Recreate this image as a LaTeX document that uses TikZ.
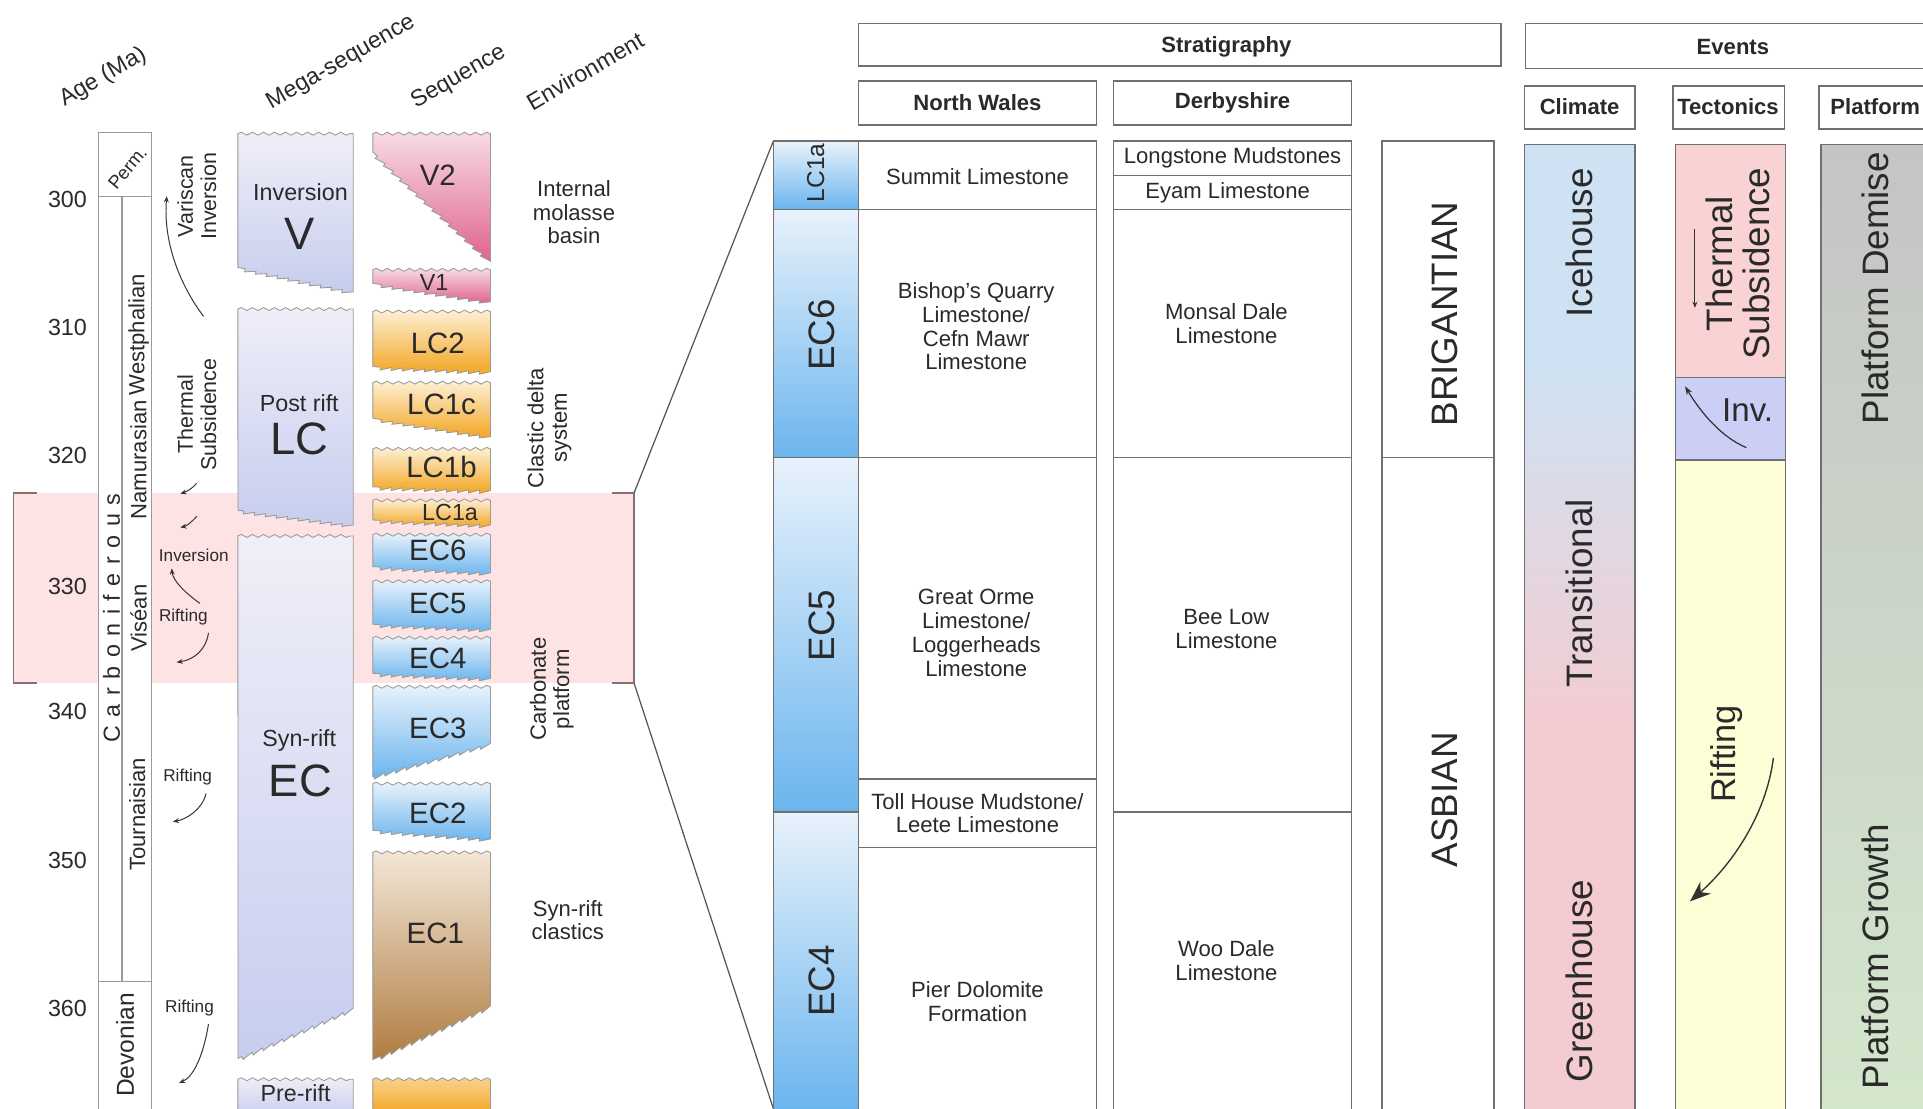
\documentclass[tikz,border=0pt]{standalone}
\usepackage{fontspec}
\setmainfont{Liberation Sans}
\usetikzlibrary{decorations.pathmorphing,arrows.meta}
\definecolor{txt}{HTML}{2A2A2A}
\definecolor{seqgray}{HTML}{9A9A9A}
\definecolor{boxgray}{HTML}{707070}
\definecolor{band}{HTML}{FDE3E3}
\definecolor{brk}{HTML}{8B7070}
\definecolor{zoomln}{HTML}{555555}
\definecolor{arrcol}{HTML}{333333}
\definecolor{megatop}{HTML}{F0EFF8}
\definecolor{megabot}{HTML}{C6CDEE}
\definecolor{v2top}{HTML}{F7DBE5}
\definecolor{v2bot}{HTML}{E0648C}
\definecolor{lctop}{HTML}{FDF0D5}
\definecolor{lcbot}{HTML}{F3A520}
\definecolor{ectop}{HTML}{E8F2FB}
\definecolor{ecbot}{HTML}{6BB5EE}
\definecolor{ecitop}{HTML}{F3E7D7}
\definecolor{ecibot}{HTML}{B07C40}
\definecolor{climblue}{HTML}{CFE2F3}
\definecolor{climpink}{HTML}{F4CBD0}
\definecolor{tpink}{HTML}{F9D3D3}
\definecolor{tblue}{HTML}{CBCFF6}
\definecolor{tyellow}{HTML}{FDFDD6}
\definecolor{platgray}{HTML}{C4C4C4}
\definecolor{platgreen}{HTML}{D3E7CC}
\newcommand{\fsz}[2]{\fontsize{#1}{#2}\selectfont}
\tikzset{
  txtbase/.style={inner sep=0pt, text=txt, align=center},
  hdr/.style={txtbase, font=\fsz{18}{20}\bfseries},
  cell/.style={txtbase, font=\fsz{18}{19.5}},
  big/.style={txtbase, font=\fsz{30}{31}},
  seqlbl/.style={txtbase, font=\fsz{24}{26}},
  megalbl/.style={txtbase, font=\fsz{19}{21}},
  megabig/.style={txtbase, font=\fsz{37}{40}},
  lefttxt/.style={txtbase, font=\fsz{18}{19}},
  agetxt/.style={txtbase, font=\fsz{19}{21}},
  smalltxt/.style={txtbase, font=\fsz{14}{15}},
  seqline/.style={draw=seqgray, line width=0.7pt},
  boxline/.style={draw=boxgray, line width=1.2pt},
  arr/.style={-{Stealth[length=5pt,width=4pt]}, line width=0.8pt, draw=arrcol},
  wav/.style={decoration={snake,amplitude=1.2pt,segment length=9pt}},
  sawd/.style={decoration={saw,amplitude=2.5pt,segment length=9pt}},
}
% x1 x2 ytop ybotleft ybotright topcolor bottomcolor
\newcommand{\seqshape}[7]{%
  \path[seqline, top color=#6, bottom color=#7]
    (#1,#3) decorate[wav]{-- (#2,#3)} -- (#2,#5)
    decorate[sawd]{-- (#1,#4)} -- cycle;}
\begin{document}
\begin{tikzpicture}[x=1pt,y=-1pt]
\path[use as bounding box] (0,0) rectangle (1568,904);
\clip (0,0) rectangle (1568,904);
\fill[white] (0,0) rectangle (1568,904);

% ---------- highlighted band ----------
\fill[band] (11,402) rectangle (517,557);
\draw[brk, line width=1pt] (30,402) -- (11,402) -- (11,557) -- (30,557);
\draw[brk, line width=1pt] (499,402) -- (517,402) -- (517,557) -- (499,557);
\coordinate (bandtr) at (517,402);
\coordinate (bandbr) at (517,557);
\coordinate (paneltl) at (630.6,115);
\coordinate (panelbl) at (630.6,904);
\draw[zoomln, line width=1pt] (bandtr) -- (paneltl);
\draw[zoomln, line width=1pt] (bandbr) -- (panelbl);

% ---------- headers ----------
\node[agetxt, rotate=30] (hage) at (84,63) {Age (Ma)};
\node[agetxt, rotate=30] (hmega) at (278,51) {Mega-sequence};
\node[agetxt, rotate=30] (hseq) at (374,63) {Sequence};
\node[agetxt, rotate=30] (henv) at (477,58) {Environment};

% ---------- age numbers ----------
\node[agetxt] (a300) at (55,163) {300};
\node[agetxt] (a310) at (55,267) {310};
\node[agetxt] (a320) at (55,371) {320};
\node[agetxt] (a330) at (55,478) {330};
\node[agetxt] (a340) at (55,580) {340};
\node[agetxt] (a350) at (55,702) {350};
\node[agetxt] (a360) at (55,822) {360};

% ---------- stratigraphic column ----------
\path[fill=white, draw=seqgray, line width=1pt] (80.6,108) rectangle (123.6,910);
\draw[seqgray, line width=1pt] (80.6,160) -- (123.6,160);
\draw[seqgray, line width=1pt] (99.5,160) -- (99.5,800);
\draw[seqgray, line width=1pt] (80.6,800) -- (123.6,800);
\node[txtbase, font=\fsz{15}{16}, rotate=50] (perm) at (104,137) {Perm.};
\node[txtbase, font=\fsz{19}{20}, rotate=90] (carb) at (91,504)
  {C\kern7pt a\kern7pt r\kern7pt b\kern7pt o\kern7pt n\kern7pt i\kern7pt f\kern7pt e\kern7pt r\kern7pt o\kern7pt u\kern7pt s};
\node[lefttxt, rotate=90] (west) at (113,273) {Westphalian};
\node[lefttxt, rotate=90] (namur) at (113,375) {Namurasian};
\node[lefttxt, rotate=90] (visean) at (113,504) {Viséan};
\node[lefttxt, rotate=90] (tourn) at (112,664) {Tournaisian};
\node[txtbase, font=\fsz{20}{21}, rotate=90] (devon) at (102,852) {Devonian};

% ---------- tectonic notes (left) ----------
\node[txtbase, font=\fsz{17.5}{19}, rotate=90] (varis) at (160.5,160) {Variscan\\Inversion};
\node[txtbase, font=\fsz{17.5}{19}, rotate=90] (thsub) at (160.5,338) {Thermal\\Subsidence};
\node[smalltxt] (inv1) at (158,453) {Inversion};
\node[smalltxt] (rift1) at (149.5,503) {Rifting};
\node[smalltxt] (rift2) at (153,634) {Rifting};
\node[smalltxt] (rift3) at (154.5,822) {Rifting};

\coordinate (va0) at (166,258); \coordinate (va1) at (136,160);
\draw[arr] (va0) .. controls (145,230) and (133,195) .. (va1);
\coordinate (ts0) at (160.4,394); \coordinate (ts1) at (147,402.5);
\draw[arr] (ts0) .. controls (156,399) and (152,401) .. (ts1);
\coordinate (ts2) at (160.4,421); \coordinate (ts3) at (147,430);
\draw[arr] (ts2) .. controls (156,426) and (152,429) .. (ts3);
\coordinate (ri0) at (163,492); \coordinate (ri1) at (140,463.5);
\draw[arr] (ri0) .. controls (152,484) and (141,474) .. (ri1);
\coordinate (ri2) at (170,516); \coordinate (ri3) at (144,540);
\draw[arr] (ri2) .. controls (168,530) and (158,538) .. (ri3);
\coordinate (ri4) at (168,647); \coordinate (ri5) at (141,670);
\draw[arr] (ri4) .. controls (165,660) and (152,668) .. (ri5);
\coordinate (ri6) at (170,835); \coordinate (ri7) at (146,883);
\draw[arr] (ri6) .. controls (166,860) and (158,878) .. (ri7);

% ---------- mega-sequences ----------
\seqshape{194}{288}{109}{218}{238}{megatop}{megabot}
\seqshape{194}{288}{252}{416}{428}{megatop}{megabot}
\seqshape{194}{288}{437}{863}{822}{megatop}{megabot}
\path[seqline, top color=megatop, bottom color=megabot]
  (194,880) decorate[wav]{-- (288,880)} -- (288,910) -- (194,910) -- cycle;
\node[megalbl] (minv) at (245,157) {Inversion};
\node[megabig] (mv) at (244,191) {V};
\node[megalbl] (mpost) at (244,329) {Post rift};
\node[megabig] (mlc) at (244,358) {LC};
\node[megalbl] (msyn) at (244,604) {Syn-rift};
\node[megabig] (mec) at (245,637) {EC};
\node[megalbl] (mpre) at (241,891) {Pre-rift};

% ---------- sequences ----------
\path[seqline, top color=v2top, bottom color=v2bot]
  (304,109) decorate[wav]{-- (400,109)} -- (400,213)
  decorate[sawd]{-- (304,124)} -- cycle;
\seqshape{304}{400}{220}{231}{246}{v2top}{v2bot}
\seqshape{304}{400}{254}{299}{303}{lctop}{lcbot}
\seqshape{304}{400}{312}{341}{356}{lctop}{lcbot}
\seqshape{304}{400}{366}{397}{400}{lctop}{lcbot}
\seqshape{304}{400}{408}{424}{428}{lctop}{lcbot}
\seqshape{304}{400}{436}{462}{467}{ectop}{ecbot}
\seqshape{304}{400}{474}{509}{513}{ectop}{ecbot}
\seqshape{304}{400}{520}{549}{553}{ectop}{ecbot}
\seqshape{304}{400}{560}{633}{606}{ectop}{ecbot}
\seqshape{304}{400}{639}{677}{684}{ectop}{ecbot}
\seqshape{304}{400}{695}{864}{820}{ecitop}{ecibot}
\path[seqline, top color=lctop!60!lcbot, bottom color=lcbot]
  (304,880) decorate[wav]{-- (400,880)} -- (400,910) -- (304,910) -- cycle;
\node[seqlbl] (sv2) at (357,143) {V2};
\node[txtbase, font=\fsz{19}{20}] (sv1) at (354,230) {V1};
\node[seqlbl] (slc2) at (357,280) {LC2};
\node[seqlbl] (slc1c) at (360,330) {LC1c};
\node[seqlbl] (slc1b) at (360,381) {LC1b};
\node[txtbase, font=\fsz{19}{20}] (slc1a) at (367,418) {LC1a};
\node[seqlbl] (sec6) at (357,449) {EC6};
\node[seqlbl] (sec5) at (357,492) {EC5};
\node[seqlbl] (sec4) at (357,537) {EC4};
\node[seqlbl] (sec3) at (357,594) {EC3};
\node[seqlbl] (sec2) at (357,663) {EC2};
\node[seqlbl] (sec1) at (355,761) {EC1};

% ---------- environments ----------
\node[lefttxt] (env1) at (468,173) {Internal\\molasse\\basin};
\node[lefttxt, rotate=90] (env2) at (448,349) {Clastic delta\\system};
\node[lefttxt, rotate=90] (env3) at (450,562) {Carbonate\\platform};
\node[lefttxt] (env4) at (463,750) {Syn-rift\\clastics};

% ---------- right: headers ----------
\draw[boxline] (700,19) rectangle (1224,54);
\node[hdr] (hstrat) at (1000,38) {Stratigraphy};
\draw[boxline] (1244,19) rectangle (1582,56);
\node[hdr] (hevents) at (1413,38) {Events};
\draw[boxline] (700,66) rectangle (894,102);
\node[hdr] (hnw) at (797,84) {North Wales};
\draw[boxline] (908,66) rectangle (1102,102);
\node[hdr] (hder) at (1005,84) {Derbyshire};
\draw[boxline] (1243,70) rectangle (1333,105);
\node[hdr] (hclim) at (1288,87) {Climate};
\draw[boxline] (1364,70) rectangle (1455,105);
\node[hdr] (htec) at (1409,87) {Tectonics};
\draw[boxline] (1483,70) rectangle (1575,105);
\node[hdr] (hplat) at (1529,87) {Platform};

% ---------- zoom panel: sequence column ----------
\shade[top color=ectop, bottom color=ecbot] (630.6,115) rectangle (700,171);
\shade[top color=ectop, bottom color=ecbot] (630.6,171) rectangle (700,373);
\shade[top color=ectop, bottom color=ecbot] (630.6,373) rectangle (700,662);
\shade[top color=ectop, bottom color=ecbot] (630.6,662) rectangle (700,904);
\draw[boxline] (630.6,115) rectangle (700,910);
\draw[boxline] (630.6,171) -- (700,171);
\draw[boxline] (630.6,373) -- (700,373);
\draw[boxline] (630.6,662) -- (700,662);
\node[txtbase, font=\fsz{20}{21}, rotate=90] (plc1a) at (665,141) {LC1a};
\node[big, rotate=90] (pec6) at (670,273) {EC6};
\node[big, rotate=90] (pec5) at (670,510) {EC5};
\node[big, rotate=90] (pec4) at (670,800) {EC4};

% ---------- North Wales ----------
\draw[boxline] (700,115) rectangle (894,910);
\draw[boxline] (700,171) -- (894,171);
\draw[boxline] (700,373) -- (894,373);
\draw[boxline] (700,635) -- (894,635);
\draw[boxline] (700,691) -- (894,691);
\node[cell] (nw1) at (797,144) {Summit Limestone};
\node[cell] (nw2) at (796,266) {Bishop's Quarry\\Limestone/\\Cefn Mawr\\Limestone};
\node[cell] (nw3) at (796,516) {Great Orme\\Limestone/\\Loggerheads\\Limestone};
\node[cell] (nw4) at (797,663) {Toll House Mudstone/\\Leete Limestone};
\node[cell] (nw5) at (797,817) {Pier Dolomite\\Formation};

% ---------- Derbyshire ----------
\draw[boxline] (908,115) rectangle (1102,910);
\draw[boxline] (908,143) -- (1102,143);
\draw[boxline] (908,171) -- (1102,171);
\draw[boxline] (908,373) -- (1102,373);
\draw[boxline] (908,662) -- (1102,662);
\node[cell] (dy1) at (1005,129) {Longstone Mudstones};
\node[cell] (dy2) at (1001,157) {Eyam Limestone};
\node[cell] (dy3) at (1000,264) {Monsal Dale\\Limestone};
\node[cell] (dy4) at (1000,513) {Bee Low\\Limestone};
\node[cell] (dy5) at (1000,783) {Woo Dale\\Limestone};

% ---------- stages ----------
\draw[boxline] (1127,115) rectangle (1218,910);
\draw[boxline] (1127,373) -- (1218,373);
\node[big, rotate=90] (brig) at (1178,256) {BRIGANTIAN};
\node[big, rotate=90] (asb) at (1178,652) {ASBIAN};

% ---------- climate ----------
\fill[climblue] (1243,118) rectangle (1333,300);
\shade[top color=climblue, bottom color=climpink] (1243,300) rectangle (1333,600);
\fill[climpink] (1243,600) rectangle (1333,910);
\draw[boxline] (1243,118) rectangle (1333,910);
\node[big, rotate=90] (ice) at (1288,198) {Icehouse};
\node[big, rotate=90] (trans) at (1288,484) {Transitional};
\node[big, rotate=90] (green) at (1288,800) {Greenhouse};

% ---------- tectonics ----------
\fill[tpink] (1366,118) rectangle (1456,308);
\fill[tblue] (1366,308) rectangle (1456,375);
\fill[tyellow] (1366,375) rectangle (1456,910);
\draw[boxline] (1366,118) rectangle (1456,910);
\draw[boxline] (1366,308) -- (1456,308);
\draw[boxline] (1366,375) -- (1456,375);
\node[txtbase, font=\fsz{30}{30}, rotate=90] (tts) at (1417,215) {Thermal\\Subsidence};
\node[txtbase, font=\fsz{27}{28}] (tinv) at (1425,334) {Inv.};
\node[txtbase, font=\fsz{28}{29}, rotate=90] (trift) at (1408,615) {Rifting};
\coordinate (tt0) at (1382,187); \coordinate (tt1) at (1382,251);
\draw[arr] (tt0) -- (tt1);
\coordinate (tv0) at (1424,365); \coordinate (tv1) at (1374,315);
\draw[-{Stealth[length=7pt,width=5pt]}, line width=1pt, draw=arrcol] (tv0) .. controls (1400,355) and (1383,330) .. (tv1);
\coordinate (tr0) at (1446,618); \coordinate (tr1) at (1378,735);
\draw[-{Stealth[length=17pt,width=13pt]}, line width=1.1pt, draw=arrcol] (tr0) .. controls (1440,665) and (1412,705) .. (tr1);

% ---------- platform ----------
\shade[top color=platgray, bottom color=platgreen] (1485,118) rectangle (1590,910);
\draw[boxline] (1485,118) rectangle (1590,910);
\node[big, rotate=90] (pdem) at (1529,235) {Platform Demise};
\node[big, rotate=90] (pgro) at (1529,780) {Platform Growth};
\end{tikzpicture}
\end{document}
